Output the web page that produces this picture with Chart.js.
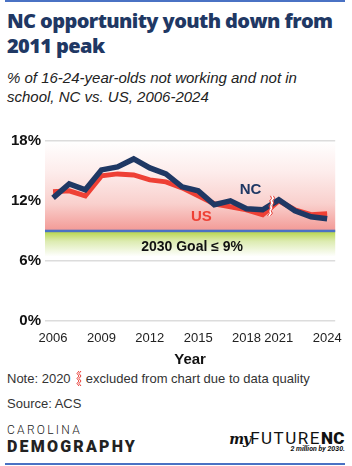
<!DOCTYPE html>
<html>
<head>
<meta charset="utf-8">
<script src="https://cdn.jsdelivr.net/npm/chart.js@4/dist/chart.umd.min.js"></script>
<style>
  body { margin:0; width:352px; height:466px; background:#fff; position:relative; overflow:hidden; font-family:"Liberation Sans", Arial, sans-serif; }
  .rule { position:absolute; left:5px; width:340px; height:2px; background:#4a72c4; }
  #title { position:absolute; left:7px; top:8px; width:345px; font-family:"Open Sans", sans-serif; font-weight:800; font-size:20px; line-height:25px; color:#1f3864; letter-spacing:-0.6px; }
  #sub { position:absolute; left:7px; top:68px; font-style:italic; font-size:15px; line-height:19px; color:#222; }
  #wrap { position:absolute; left:0; top:120px; width:352px; height:249px; }
  .note { position:absolute; left:7px; font-size:13px; color:#333; }
  #carolina { position:absolute; left:7px; top:423px; font-family:Roboto, sans-serif; font-weight:300; font-size:12px; letter-spacing:2.3px; color:#222; }
  #demog { position:absolute; left:7px; top:437px; font-family:Roboto, sans-serif; font-weight:900; font-size:16px; letter-spacing:2.2px; color:#222; }
  #mfnc { position:absolute; right:7px; top:428px; font-family:Roboto, sans-serif; font-size:17px; color:#111; letter-spacing:1.5px; }
  #mfnc i { font-family:"DejaVu Serif", serif; font-size:14px; letter-spacing:-1px; font-weight:bold; }
  #mfnc b { font-weight:900; letter-spacing:0.5px; }
  #mill { position:absolute; right:7px; top:445px; font-family:Roboto, sans-serif; font-style:italic; font-weight:700; font-size:7px; color:#111; }
</style>
</head>
<body>
<div class="rule" style="top:0px"></div>
<div id="title">NC opportunity youth down from<br>2011 peak</div>
<div id="sub">% of 16-24-year-olds not working and not in<br>school, NC vs. US, 2006-2024</div>
<div id="wrap"><canvas id="mycanvas"></canvas></div>
<div class="note" style="top:371px">Note: 2020 <svg width="8" height="15" viewBox="0 0 8 15" style="vertical-align:-3px"><polyline points="5,0 3,2.5 5,5 3,7.5 5,10 3,12.5 5,15" fill="none" stroke="#e8403a" stroke-width="1"/><polyline points="7,0 5,2.5 7,5 5,7.5 7,10 5,12.5 7,15" fill="none" stroke="#e8403a" stroke-width="1"/></svg> excluded from chart due to data quality</div>
<div class="note" style="top:396px">Source: ACS</div>
<div id="carolina">CAROLINA</div>
<div id="demog">DEMOGRAPHY</div>
<div id="mfnc"><i>my</i>FUTURE<b>NC</b></div>
<div id="mill">2 million by 2030.</div>
<div class="rule" style="top:463px"></div>
<script>
// 2020 left out (data quality)
var years = ['2006','2007','2008','2009','2010','2011','2012','2013','2014','2015','2016','2017','2018','2019','2021','2022','2023','2024'];
var shownYears = ['2006','2009','2012','2015','2018','2021','2024'];
var nc = [12.3, 13.7, 13.1, 15.1, 15.4, 16.2, 15.3, 14.7, 13.4, 13.0, 11.6, 12.0, 11.2, 11.1, 12.1, 11.0, 10.4, 10.2];
var us = [12.9, 13.0, 12.5, 14.5, 14.7, 14.6, 14.1, 13.9, 13.3, 12.5, 11.7, 11.4, 11.1, 10.6, 12.0, 11.1, 10.6, 10.7];
var yTicks = [0, 6, 12, 18];
var goal = 9;

var bands = {
	id:'bands',
	beforeDatasetsDraw:function(chart){
		var ctx = chart.ctx, a = chart.chartArea, y = chart.scales.y;
		var top = y.getPixelForValue(18), g = y.getPixelForValue(goal), low = y.getPixelForValue(6.4);
		ctx.save();
		var red = ctx.createLinearGradient(0, top, 0, g);
		red.addColorStop(0, '#ffffff');
		red.addColorStop(0.35, '#fdeceb');
		red.addColorStop(0.7, '#f9d0cd');
		red.addColorStop(1, '#f39a96');
		ctx.fillStyle = red;
		ctx.fillRect(a.left, top + 1, a.right - a.left, g - top - 1);
		var grn = ctx.createLinearGradient(0, g, 0, low);
		grn.addColorStop(0, '#b3d442');
		grn.addColorStop(0.4, '#dcebb0');
		grn.addColorStop(1, '#ffffff');
		ctx.fillStyle = grn;
		ctx.fillRect(a.left, g, a.right - a.left, low - g);
		ctx.fillStyle = '#4a72c4';
		ctx.fillRect(a.left, g - 1, a.right - a.left, 2.5);
		ctx.fillStyle = '#111';
		ctx.font = 'bold 14px "Liberation Sans", Arial';
		ctx.textAlign = 'center';
		ctx.textBaseline = 'middle';
		ctx.fillText('2030 Goal \u2264 9%', (a.left + a.right) / 2 + 2, g + 16);
		ctx.restore();
	},
	afterDatasetsDraw:function(chart){
		var ctx = chart.ctx, x = chart.scales.x, y = chart.scales.y;
		ctx.save();
		// break marker between 2019 and 2021
		var bx = (x.getPixelForValue(13) + x.getPixelForValue(14)) / 2 + 1;
		var y1 = y.getPixelForValue(12.5), y2 = y.getPixelForValue(10.5);
		ctx.fillStyle = '#fff';
		ctx.beginPath();
		ctx.moveTo(bx, y1); ctx.lineTo(bx + 2.5, y1); ctx.lineTo(bx - 0.5, y2); ctx.lineTo(bx - 3, y2);
		ctx.fill();
		ctx.strokeStyle = '#e8403a';
		ctx.lineWidth = 1;
		[-0.5, 2.5].forEach(function(off){
			ctx.beginPath();
			var n = 8;
			for (var i = 0; i <= n; i++) {
				var py = y1 + (y2 - y1) * i / n;
				var px = bx + off - 3 * i / n + (i % 2 ? 0.8 : -0.8);
				if (i === 0) ctx.moveTo(px, py); else ctx.lineTo(px, py);
			}
			ctx.stroke();
		});
		ctx.font = 'bold 15px "Liberation Sans", Arial';
		ctx.textAlign = 'center';
		ctx.textBaseline = 'middle';
		ctx.fillStyle = '#1f3864';
		ctx.fillText('NC', x.getPixelForValue(12.25), y.getPixelForValue(13.1));
		ctx.fillStyle = '#ee4035';
		ctx.fillText('US', x.getPixelForValue(9.2), y.getPixelForValue(10.4));
		ctx.restore();
	}
};

var ctx = document.getElementById('mycanvas');
var lineChart = new Chart(ctx, {
	type:'line',
	data:{
		labels:years,
		datasets:[{
			label:'NC',
			data:nc,
			borderColor:'#1f3864',
			borderWidth:5.5,
			pointRadius:0,
			tension:0,
			borderJoinStyle:'miter'
		},{
			label:'US',
			data:us,
			borderColor:'#ee4035',
			borderWidth:5,
			pointRadius:0,
			tension:0,
			borderJoinStyle:'miter'
		}]
	},
	options:{
		responsive:true,
		maintainAspectRatio:false,
		animation:false,
		events:[],
		layout:{padding:{top:21, right:14, left:0, bottom:0}},
		plugins:{legend:{display:false}, tooltip:{enabled:false}},
		scales:{
			x:{
				offset:true,
				grid:{display:false, drawTicks:false},
				border:{display:false},
				ticks:{
					autoSkip:false, maxRotation:0, padding:10, color:'#222',
					font:{family:'"Liberation Sans", Arial', size:13},
					callback:function(v, i){ return shownYears.indexOf(years[i]) >= 0 ? years[i] : ''; }
				},
				title:{display:true, text:'Year', color:'#111', padding:{top:-5, bottom:0},
					font:{family:'"Liberation Sans", Arial', size:15, weight:'bold'}}
			},
			y:{
				min:0, max:18,
				afterBuildTicks:function(s){ s.ticks = yTicks.map(function(v){ return {value:v}; }); },
				afterFit:function(s){ s.width = 45; },
				grid:{color:'#dcdcdc', lineWidth:1.5, drawTicks:false},
				border:{display:false},
				ticks:{
					padding:4, color:'#111',
					font:{family:'"Liberation Sans", Arial', size:15, weight:'bold'},
					callback:function(v){ return v + '%'; }
				}
			}
		}
	},
	plugins:[bands]
});
</script>
</body>
</html>
